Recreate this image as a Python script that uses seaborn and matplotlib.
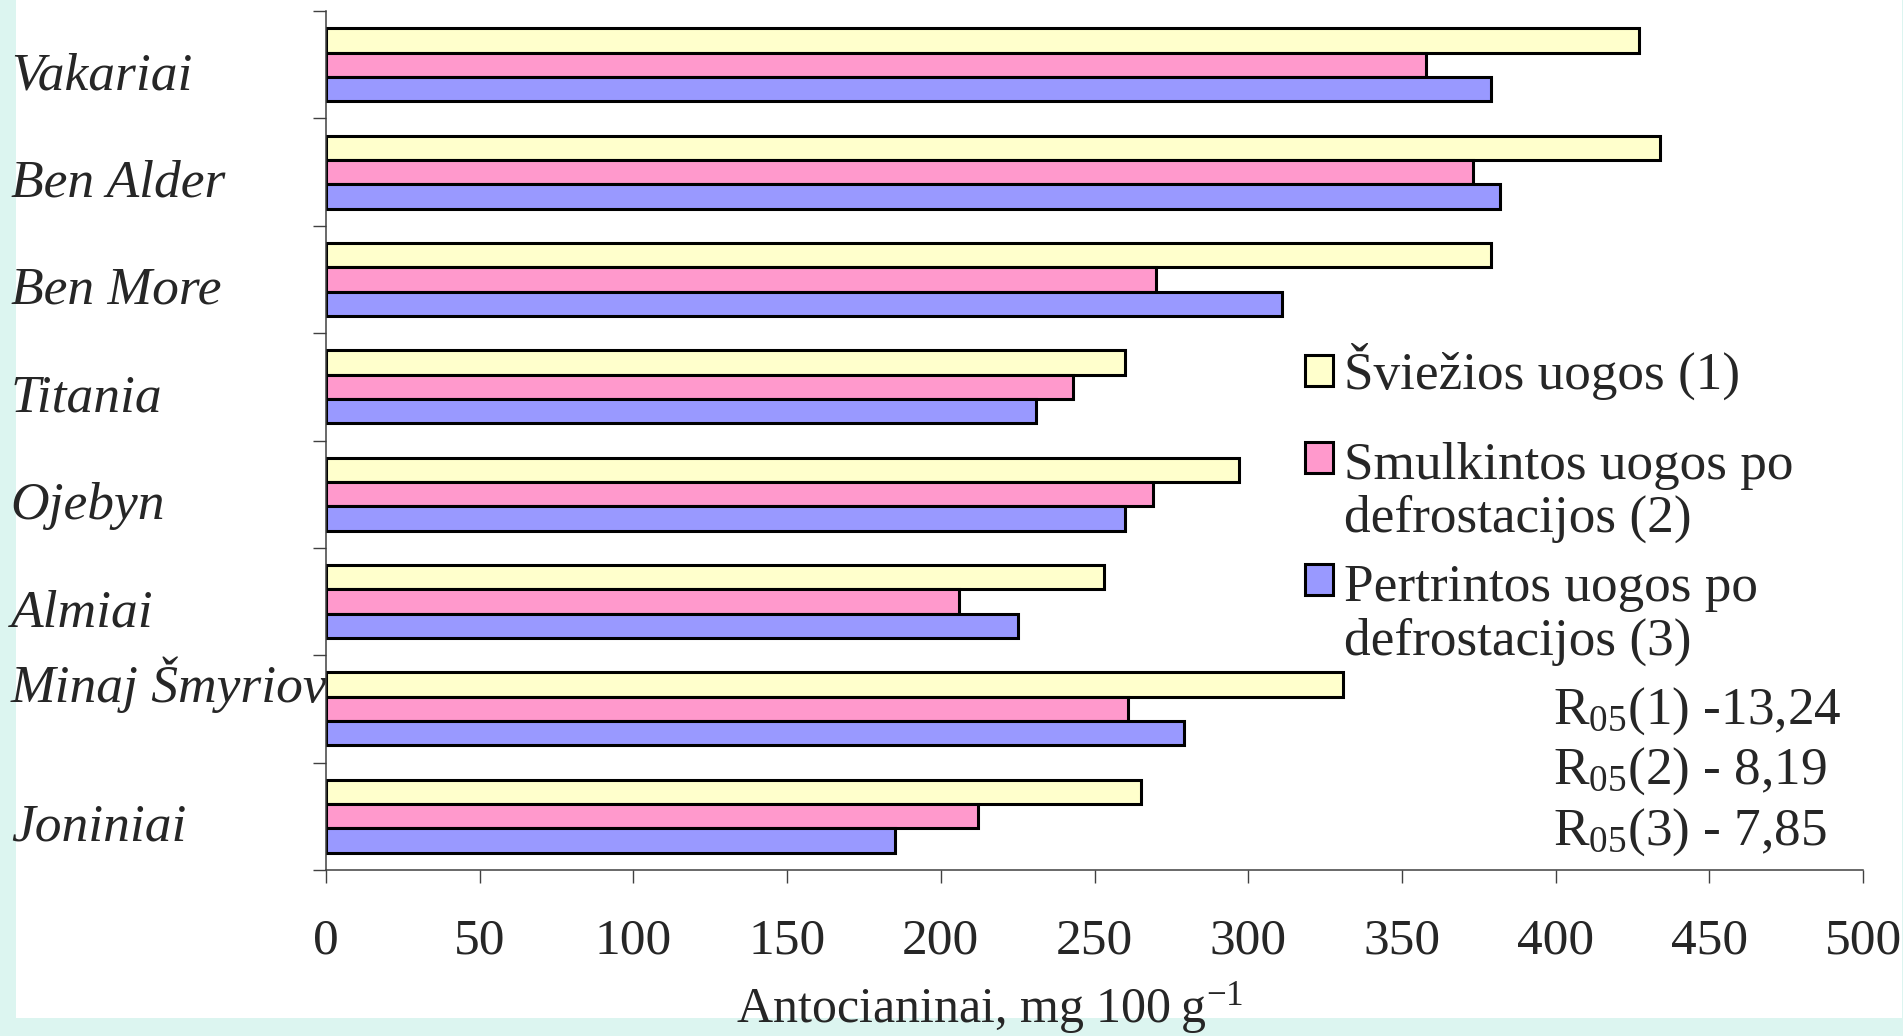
import numpy as np
import pandas as pd
import seaborn as sns
import matplotlib.pyplot as plt
import matplotlib.transforms as mtransforms
from matplotlib.patches import Rectangle

# Data (mg 100 g-1)
varieties = ["Vakariai", "Ben Alder", "Ben More", "Titania", "Ojebyn",
             "Almiai", "Minaj Šmyriov", "Joniniai"]
fresh = [427, 434, 379, 260, 297, 253, 331, 265]
crushed = [358, 373, 270, 243, 269, 206, 261, 212]
pureed = [379, 382, 311, 231, 260, 225, 279, 185]
series = ["Šviežios uogos (1)",
          "Smulkintos uogos po\ndefrostacijos (2)",
          "Pertrintos uogos po\ndefrostacijos (3)"]
colors = ["#FFFFCC", "#FF99CC", "#9999FF"]
x_ticks = [0, 50, 100, 150, 200, 250, 300, 350, 400, 450, 500]
lsd_notes = ["R$_{05}$(1) -13,24", "R$_{05}$(2) - 8,19", "R$_{05}$(3) - 7,85"]

df = pd.DataFrame({
    "variety": varieties * 3,
    "value": fresh + crushed + pureed,
    "treatment": np.repeat(series, len(varieties)),
})

sns.set_style("white")
plt.rcParams["font.family"] = ["Liberation Serif", "DejaVu Serif"]
plt.rcParams["mathtext.fontset"] = "custom"
plt.rcParams["mathtext.rm"] = "Liberation Serif"
plt.rcParams["mathtext.it"] = "Liberation Serif:italic"

W, H = 1903, 1036
fig = plt.figure(figsize=(W / 100, H / 100), dpi=100, facecolor="#DCF5F0")
fig.patches.append(Rectangle((16 / W, 18 / H), (1902 - 16) / W, 1 - 18 / H,
                             transform=fig.transFigure, facecolor="white",
                             edgecolor="none", zorder=-1))
ax = fig.add_axes([326 / W, (H - 870) / H, (1863 - 326) / W, (870 - 11) / H])

sns.barplot(data=df, x="value", y="variety", hue="treatment", orient="h",
            palette=colors, saturation=1, width=0.68, edgecolor="black",
            linewidth=2.2, ax=ax)

ax.set_xlim(0, 500)
ax.set_ylim(7.5, -0.5)
ax.set_xticks(x_ticks)
ax.set_xticklabels([str(t) for t in x_ticks], fontsize=37)
ax.set_yticks(range(len(varieties)))
ax.set_yticklabels(varieties, fontsize=38.5, fontstyle="italic", ha="left")
ax.set_yticks(np.arange(-0.5, len(varieties)), minor=True)
ax.tick_params(axis="y", which="major", length=0, pad=227)
ax.tick_params(axis="y", which="minor", length=9.4, width=1, color="#404040", left=True)
ax.tick_params(axis="x", which="major", length=9.4, width=1, color="#404040",
               bottom=True, pad=25)
ax.set_xlabel("Antocianinai, mg 100\u2009g$^{-1}$", fontsize=36, labelpad=11, x=0.432)
ax.set_ylabel("")

for s in ["top", "right"]:
    ax.spines[s].set_visible(False)
for s in ["left", "bottom"]:
    ax.spines[s].set_color("#404040")
    ax.spines[s].set_linewidth(1.1)

# nudge the category labels like in the original
for lab in ax.get_yticklabels():
    dy = 30 if lab.get_text() == "Minaj Šmyriov" else -6
    lab.set_transform(lab.get_transform() +
                      mtransforms.ScaledTranslation(0, dy / 100, fig.dpi_scale_trans))

handles, labels = ax.get_legend_handles_labels()
leg_kw = dict(loc="upper left", bbox_transform=fig.transFigure, frameon=False,
              fontsize=38.3, handlelength=0.52, handleheight=0.52,
              handletextpad=0.22, borderpad=0, borderaxespad=0)
# first entry on its own, the two-line entries below it
leg1 = ax.legend(handles[:1], labels[:1], bbox_to_anchor=(1305 / W, 1 - 343 / H), **leg_kw)
ax.add_artist(leg1)
leg2 = ax.legend(handles[1:], labels[1:], bbox_to_anchor=(1305 / W, 1 - 442 / H),
                 labelspacing=0.40, **leg_kw)
for t in leg2.get_texts():
    t.set_linespacing(1.13)
# put the boxes next to the first line of each label
for col in leg2._legend_handle_box.get_children():
    for row in col.get_children():
        row.align = "top"

for note, yy in zip(lsd_notes, [711, 771, 832]):
    fig.text(1553 / W, 1 - yy / H, note, fontsize=38.3, va="center", ha="left")

fig.savefig("out.png", dpi=100, facecolor=fig.get_facecolor())
